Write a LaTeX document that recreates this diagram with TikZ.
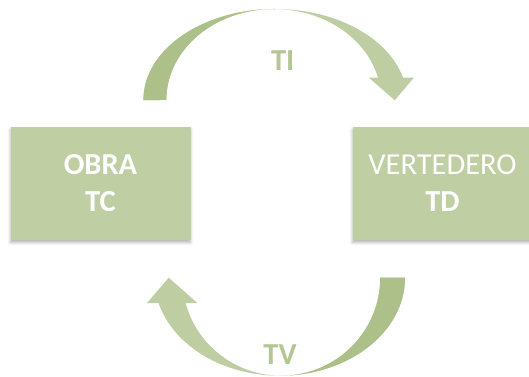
\documentclass[tikz,border=0pt]{standalone}
\usepackage{fontspec}
\setmainfont{Carlito}
\usetikzlibrary{shadows.blur}
\definecolor{boxgreen}{RGB}{191,206,163}
\definecolor{arrdark}{RGB}{174,192,138}
\definecolor{arrlight}{RGB}{190,205,162}
\definecolor{lblgreen}{RGB}{180,198,148}
\tikzset{
  greenbox/.style={fill=boxgreen, draw=none, minimum width=180pt, minimum height=113pt,
    align=center, text=white, font=\fontsize{30.5}{36.6}\selectfont, inner sep=0pt,
    blur shadow={shadow xshift=0pt, shadow yshift=-3pt, shadow blur radius=3pt, shadow opacity=30}},
  arclabel/.style={text=lblgreen, font=\fontsize{30.5}{36.6}\selectfont\bfseries, anchor=base, inner sep=0pt}
}
\newcommand{\TopArrowPath}{(143.4,276) arc[start angle=180, end angle=14.25, x radius=131.8pt, y radius=91pt]
  -- (414,298.4) -- (394.7,275.8) -- (368.8,298.4) -- (378,298.4)
  arc[start angle=14.25, end angle=180, x radius=107.5pt, y radius=91pt] -- cycle}
\newcommand{\BotArrowPath}{(405,98.3) arc[start angle=0, end angle=-165.04, x radius=125.3pt, y radius=98pt]
  -- (147.1,73) -- (168.7,98.3) -- (197.4,73) -- (185.6,73)
  arc[start angle=-165.04, end angle=0, x radius=99pt, y radius=98pt] -- cycle}
\begin{document}
\begin{tikzpicture}[x=1pt,y=1pt]
\clip (0,0) rectangle (529,376);
\useasboundingbox (0,0) rectangle (529,376);
% boxes
\node[greenbox] (obra) at (100.5,193) {\bfseries OBRA\\\bfseries TC};
\node[greenbox] (vert) at (442.5,193) {VERTEDERO\\\bfseries TD};
% top arrow (TI)
\begin{scope}
  \fill[arrlight] \TopArrowPath;
  \clip (0,0) rectangle (276,376);
  \fill[arrdark] \TopArrowPath;
\end{scope}
% bottom arrow (TV)
\begin{scope}
  \fill[arrlight] \BotArrowPath;
  \clip (281,0) rectangle (529,376);
  \fill[arrdark] \BotArrowPath;
\end{scope}
% labels
\node[arclabel] (ti) at (282.7,306) {TI};
\node[arclabel] (tv) at (280,11.6) {TV};
\end{tikzpicture}
\end{document}
